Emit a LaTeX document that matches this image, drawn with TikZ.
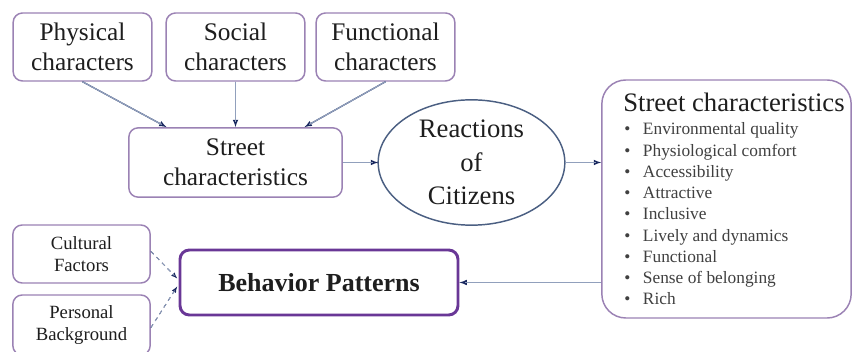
\documentclass[tikz,border=0pt]{standalone}
\usepackage{fontspec}
\newfontfamily\tms{Liberation Serif}
\definecolor{boxline}{RGB}{155,130,180}
\definecolor{boldline}{RGB}{105,55,150}
\definecolor{ovalline}{RGB}{75,95,130}
\definecolor{arrline}{RGB}{145,160,188}
\definecolor{tipcol}{RGB}{25,40,95}
\definecolor{txt}{RGB}{30,30,30}

\begin{document}
\begin{tikzpicture}[x=0.75pt,y=-0.75pt,
	box/.style={draw=boxline,line width=1.1pt,rounded corners=7pt,fill=white,text=txt,align=center,inner sep=0pt},
	topbox/.style={box,minimum width=104pt,minimum height=51pt,font=\tms\fontsize{19}{19}\selectfont},
	sidebox/.style={box,minimum width=103pt,font=\tms\fontsize{14}{14}\selectfont},
	ovaltext/.style={text=txt,align=center,inner sep=0pt,font=\tms\fontsize{20}{20}\selectfont},
	item/.style={anchor=base west,inner sep=0pt,text=txt!85,font=\tms\fontsize{13}{13}\selectfont},
	arr/.style={draw=tipcol,line width=0.9pt,-latex,postaction={draw=arrline,line width=0.9pt,-,shorten >=4pt}},
	dasharr/.style={draw=tipcol,dashed,line width=0.6pt,-latex,postaction={draw=arrline,dashed,line width=0.6pt,-,shorten >=3pt}}]
	\useasboundingbox (0,0) rectangle (853,352);
	%top row
	\node[topbox] (phys) at (82.5,47) {Physical\\[4pt]characters};
	\node[topbox] (soc) at (235.5,47) {Social\\[4pt]characters};
	\node[topbox] (func) at (385.5,47) {Functional\\[4pt]characters};
	\node[topbox,minimum width=160pt,minimum height=52pt] (street) at (235.5,162.5) {Street\\[3.5pt]characteristics};
	\node[ovaltext] (react) at (471.5,162.5) {Reactions\\[5pt]of\\[5pt]Citizens};
	\draw[ovalline,line width=1.1pt] (react.center) ellipse [x radius=70pt,y radius=47pt];
	\coordinate (reactL) at ([xshift=-70pt]react.center);
	\coordinate (reactR) at ([xshift=70pt]react.center);
	%list on the right
	\node[box,rounded corners=18pt,minimum width=187pt,minimum height=178.5pt] (list) at (726.5,199) {};
	\node[item,text=txt,font=\tms\fontsize{20}{20}\selectfont] (title) at (623,112) {Street characteristics};
	\foreach \itm [count=\i from 0] in {Environmental quality,Physiological comfort,Accessibility,Attractive,Inclusive,Lively and dynamics,Functional,Sense of belonging,Rich}
		\node[item] (it\i) at (624,135+21.25*\i) {\textbullet\hspace{9.5pt}\itm};
	%bottom row
	\node[box,draw=boldline,line width=2.2pt,minimum width=208.5pt,minimum height=48.75pt,font=\tms\fontsize{19.5}{19.5}\selectfont\bfseries] (behav) at (319,282.5) {Behavior Patterns};
	\node[sidebox,minimum height=43.5pt] (cult) at (81.5,254) {Cultural\\[3pt]Factors};
	\node[sidebox,minimum height=45pt] (pers) at (81.5,325) {Personal\\[3pt]Background};
	%connectors
	\draw[arr] (phys.south) -- ([xshift=28.8pt]street.north west);
	\draw[arr] (soc.south) -- (street.north);
	\draw[arr] (func.south) -- ([xshift=-28.8pt]street.north east);
	\draw[arr] (street.east) -- (reactL);
	\draw[arr] (reactR) -- (reactR -| list.west);
	\draw[arr] (list.west |- behav.east) -- (behav.east);
	\draw[dasharr] ([yshift=2pt]cult.east) -- ([xshift=-1pt,yshift=3pt]behav.west);
	\draw[dasharr] ([yshift=-2pt]pers.east) -- ([xshift=-1pt,yshift=-3pt]behav.west);
\end{tikzpicture}
\end{document}
